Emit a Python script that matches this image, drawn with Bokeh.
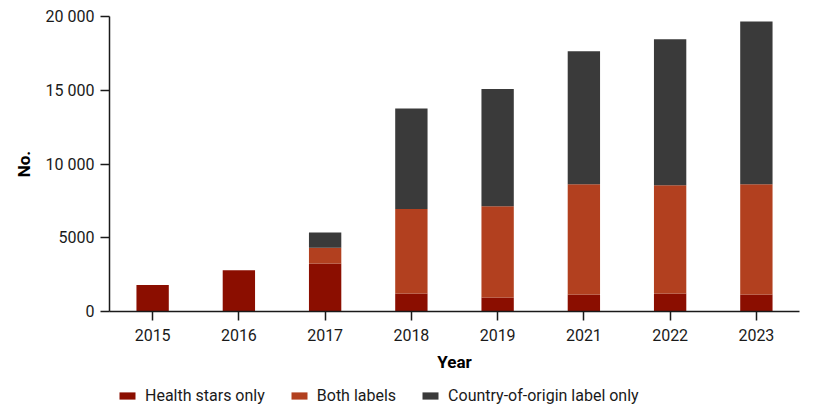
from bokeh.plotting import figure
from bokeh.layouts import column
from bokeh.models import ColumnDataSource, FixedTicker, Legend, LegendItem, Range1d
from bokeh.embed import file_html
from bokeh.resources import INLINE

years = ["2015", "2016", "2017", "2018", "2019", "2021", "2022", "2023"]
health_stars_only = [1800, 2800, 3250, 1220, 950, 1150, 1220, 1150]
both_labels = [0, 0, 1080, 5730, 6190, 7480, 7340, 7480]
country_of_origin_only = [0, 0, 1020, 6820, 7940, 9020, 9900, 11030]
series_names = ["Health stars only", "Both labels", "Country-of-origin label only"]
series_keys = ["health", "both", "coo"]
colors = ["#8B0E00", "#B2401F", "#3A3A3A"]
y_ticks = [0, 5000, 10000, 15000, 20000]
y_tick_labels = {0: "0", 5000: "5000", 10000: "10 000", 15000: "15 000", 20000: "20 000"}

FONT = "Roboto"

source = ColumnDataSource(dict(
    year=years,
    health=health_stars_only,
    both=both_labels,
    coo=country_of_origin_only,
))

p = figure(
    x_range=years, y_range=(0, 20000),
    width=800, height=375,
    output_backend="svg", toolbar_location=None,
    min_border_left=109, min_border_right=1, min_border_top=16, min_border_bottom=64,
)
p.outline_line_color = None
p.grid.grid_line_color = None
p.x_range.range_padding = 0

p.vbar_stack(series_keys, x="year", width=0.375, source=source,
             color=colors, line_color=None)

p.yaxis.ticker = FixedTicker(ticks=y_ticks)
p.yaxis.major_label_overrides = y_tick_labels

for ax in (p.xaxis[0], p.yaxis[0]):
    ax.axis_line_color = "#1a1a1a"
    ax.axis_line_width = 1.5
    ax.major_tick_line_color = "#1a1a1a"
    ax.major_tick_line_width = 1.5
    ax.major_tick_out = 9
    ax.major_tick_in = 0
    ax.minor_tick_line_color = None
    ax.major_label_text_font = FONT
    ax.major_label_text_font_size = "16px"
    ax.major_label_text_color = "#1a1a1a"
    ax.axis_label_text_font = FONT
    ax.axis_label_text_font_size = "17px"
    ax.axis_label_text_font_style = "bold"
    ax.axis_label_text_color = "#000000"

p.xaxis.axis_label = "Year"
p.yaxis.axis_label = "No."
p.xaxis.major_label_standoff = 8
p.yaxis.major_label_standoff = 6
p.xaxis.axis_label_standoff = 8
p.yaxis.axis_label_standoff = 9

# Legend strip below the chart (its frame is aligned with the chart's frame)
lg = figure(
    width=800, height=34,
    x_range=Range1d(0, 1), y_range=Range1d(0, 1),
    output_backend="svg", toolbar_location=None,
    x_axis_location=None, y_axis_location=None,
    min_border=0,
)
lg.outline_line_color = None
lg.grid.visible = False
swatches = []
for c in colors:
    # zero-height bar: only used to give the legend its colour swatch
    swatches.append(lg.vbar(x=[-1], top=[0], bottom=[0], width=0.375, color=c, line_color=None))

legend = Legend(
    items=[LegendItem(label=n, renderers=[r]) for n, r in zip(series_names, swatches)],
    orientation="horizontal",
    location=(8, 4),
    padding=0, margin=0,
    border_line_color=None,
    background_fill_alpha=0,
    glyph_width=20, glyph_height=9,
    label_height=20,
    label_standoff=8, spacing=24,
    label_text_font=FONT,
    label_text_font_size="16px",
    label_text_color="#1a1a1a",
)
lg.add_layout(legend, "center")

layout = column(p, lg, spacing=0)
open("out.html", "w").write(file_html(layout, INLINE))
